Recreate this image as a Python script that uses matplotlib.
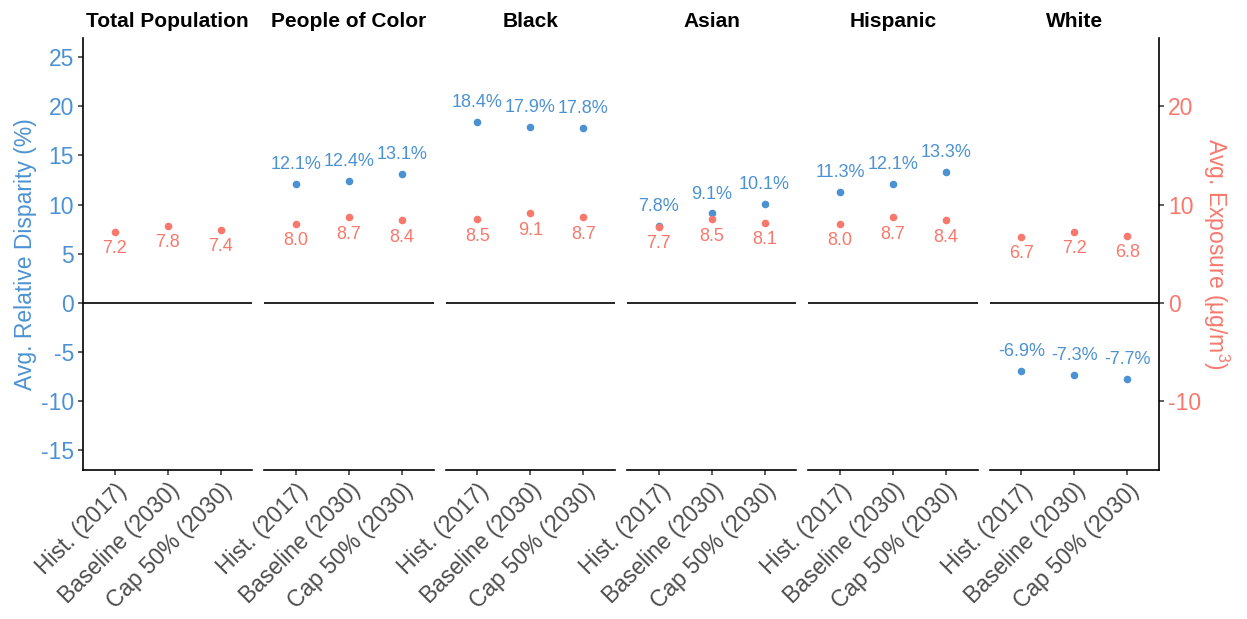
import matplotlib
matplotlib.use("Agg")
import matplotlib.pyplot as plt

plt.rcParams["font.family"] = ["Liberation Sans", "DejaVu Sans"]
plt.rcParams["mathtext.fontset"] = "custom"
plt.rcParams["mathtext.rm"] = "Liberation Sans"
plt.rcParams["mathtext.default"] = "regular"
plt.rcParams["axes.unicode_minus"] = False

groups = ["Total Population", "People of Color", "Black", "Asian", "Hispanic", "White"]
scenarios = ["Hist. (2017)", "Baseline (2030)", "Cap 50% (2030)"]

# relative disparity (%) per group, one value per scenario (None = not shown)
disparity_total = [None, None, None]
disparity_poc = [12.1, 12.4, 13.1]
disparity_black = [18.4, 17.9, 17.8]
disparity_asian = [7.8, 9.1, 10.1]
disparity_hispanic = [11.3, 12.1, 13.3]
disparity_white = [-6.9, -7.3, -7.7]

# average exposure (ug/m3) per group, one value per scenario
exposure_total = [7.2, 7.8, 7.4]
exposure_poc = [8.0, 8.7, 8.4]
exposure_black = [8.5, 9.1, 8.7]
exposure_asian = [7.7, 8.5, 8.1]
exposure_hispanic = [8.0, 8.7, 8.4]
exposure_white = [6.7, 7.2, 6.8]

disparity = [disparity_total, disparity_poc, disparity_black,
             disparity_asian, disparity_hispanic, disparity_white]
exposure = [exposure_total, exposure_poc, exposure_black,
            exposure_asian, exposure_hispanic, exposure_white]

left_ticks = [-15, -10, -5, 0, 5, 10, 15, 20, 25]
right_ticks = [-10, 0, 10, 20]

BLUE = "#4C92D2"
RED = "#F8786C"
TICK_GREY = "#4D4D4D"
YLIM = (-17.0, 26.95)

fig = plt.figure(figsize=(12.47, 6.19), dpi=100)
gs = fig.add_gridspec(1, 6, left=0.0666, right=0.9294, top=0.9386,
                      bottom=0.2407, wspace=0.0709)

for i, grp in enumerate(groups):
    ax = fig.add_subplot(gs[0, i])
    x = list(range(len(scenarios)))

    ax.axhline(0, color="black", lw=1.2, zorder=1)

    # disparity points and labels
    for xi, v in zip(x, disparity[i]):
        if v is None:
            continue
        ax.scatter(xi, v, s=30, color=BLUE, zorder=3, linewidths=0)
        ax.annotate(f"{v:.1f}%", (xi, v), xytext=(0, 14),
                    textcoords="offset points", ha="center", va="center",
                    color=BLUE, fontsize=13)

    # exposure points and labels
    for xi, v in zip(x, exposure[i]):
        ax.scatter(xi, v, s=30, color=RED, zorder=4, linewidths=0)
        ax.annotate(f"{v:.1f}", (xi, v), xytext=(0, -12),
                    textcoords="offset points", ha="center", va="center",
                    color=RED, fontsize=13)

    ax.set_xlim(-0.6, 2.6)
    ax.set_ylim(*YLIM)
    ax.set_xticks(x)
    ax.set_xticklabels(scenarios, rotation=45, ha="right", va="top",
                       rotation_mode="anchor", color=TICK_GREY, fontsize=16.5)
    ax.set_title(grp, fontsize=15, fontweight="bold", pad=8)

    for side in ("top", "right"):
        ax.spines[side].set_visible(False)
    ax.spines["bottom"].set_linewidth(1.2)
    ax.spines["left"].set_linewidth(1.2)
    ax.tick_params(axis="x", length=3.5, width=1.1, color="#333333", pad=3)

    if i == len(groups) - 1:
        twin = ax.twinx()
        twin.set_ylim(*YLIM)
        twin.set_yticks(right_ticks)
        for side in ("top", "left", "bottom"):
            twin.spines[side].set_visible(False)
        twin.spines["right"].set_linewidth(1.2)
        twin.tick_params(axis="y", length=3.5, width=1.1, color="#333333",
                         labelcolor=RED, labelsize=16.5, pad=3)
        twin.set_ylabel("Avg. Exposure (μg/m$^3$)", color=RED, fontsize=16.5,
                        rotation=270, labelpad=22)

    if i == 0:
        ax.set_yticks(left_ticks)
        ax.tick_params(axis="y", length=3.5, width=1.1, color="#333333",
                       labelcolor=BLUE, labelsize=16.5, pad=3)
        ax.set_ylabel("Avg. Relative Disparity (%)", color=BLUE, fontsize=16.5,
                      labelpad=3)
    else:
        ax.spines["left"].set_visible(False)
        ax.tick_params(axis="y", left=False, labelleft=False,
                       right=False, labelright=False)

fig.savefig("out.png", dpi=100, facecolor="white")
